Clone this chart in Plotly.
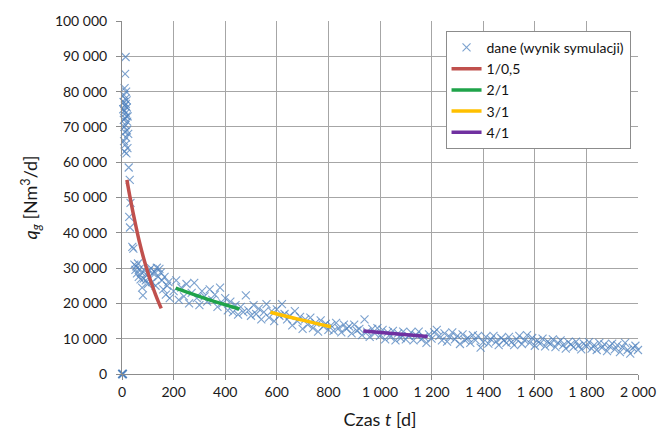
import plotly.graph_objects as go

# --- simulation output: time [d] and gas rate [Nm3/d] ---
t_zero = [0, 1, 2, 3, 4]
q_zero = [0, 0, 0, 0, 0]

t_early = [5, 6, 7, 8, 8, 9, 9, 10, 10, 11, 11, 12, 12, 13, 13, 14, 14, 15, 15, 16,
           16, 17, 17, 18, 19, 19, 20, 21, 22, 24, 26, 30, 33, 28, 31, 40, 44]
q_early = [75000, 77000, 72000, 79000, 66000, 70000, 74500, 81000, 63000, 76000,
           68500, 85000, 72500, 78000, 65000, 89800, 70500, 74000, 76500, 67000,
           80000, 73000, 62500, 77500, 69000, 75500, 71500, 64000, 73000, 68000,
           58500, 55000, 48500, 44500, 41500, 36000, 35500]

t_mid = [48, 52, 55, 58, 62, 65, 68, 72, 75, 78, 81, 84, 88, 92, 96, 100, 104, 108,
         112, 116, 120, 125, 130, 135, 140, 145, 150, 155, 160, 165, 170, 175, 180, 185]
q_mid = [31000, 29500, 30500, 28500, 31300, 27500, 29800, 26800, 28800, 24500,
         22300, 27000, 29300, 26500, 28000, 25500, 29300, 27000, 30000, 26000,
         28500, 29000, 25000, 30100, 27500, 29800, 28700, 26500, 24000, 27500,
         22500, 25000, 26000, 21500]

t_late = list(range(200, 2001, 10))
q_late = [23500, 26500, 21000, 24500, 22000, 25500, 20000, 23000, 25800, 21500,
          19500, 23500, 22000, 20500, 24000, 21000, 22500, 19000, 24500, 20000,
          21500, 18000, 20500, 17500, 19500, 16800, 19000, 17500, 22300, 18000,
          16500, 19500, 17000, 18500, 15500, 17500, 19800, 16000, 17800, 15000,
          18300, 16500, 19800, 17000, 15500, 16500, 13800, 17800, 15000, 16200,
          12800, 15500, 14000, 16000, 13000, 14500, 12000, 15200, 13500, 14200,
          12500, 13800, 12200, 14500, 13000, 11800, 14000, 12800, 13500, 11500,
          14000, 12300, 12800, 11000, 15500, 12000, 10500, 12800, 11500, 13000,
          10800, 12500, 9800, 11800, 10500, 12200, 9500, 11500, 10200, 12000,
          9800, 10800, 11800, 9500, 11000, 12000, 9800, 10500, 8800, 11200,
          10000, 11800, 12500, 10800, 9500, 11500, 9200, 10500, 11800, 9800,
          10800, 8500, 11200, 9500, 10200, 8800, 11000, 9600, 10800, 7500,
          9000, 10500, 8600, 9800, 10800, 9200, 8200, 10200, 9500, 8800,
          10500, 9000, 8200, 9800, 10800, 8500, 9600, 11000, 8800, 10200,
          8000, 9500, 8600, 10000, 7800, 9200, 8500, 9800, 7600, 8800,
          9500, 8200, 7200, 9000, 8400, 7600, 9200, 8000, 7000, 8600,
          7800, 9000, 7200, 8200, 6800, 8800, 7500, 8400, 6500, 7800,
          8600, 7000, 8200, 6200, 7600, 8800, 6800, 5800, 7400, 8000, 6800]

t_data = t_zero + t_early + t_mid + t_late
q_data = q_zero + q_early + q_mid + q_late

# --- fitted decline segments ---
t_fit1 = [19, 30, 42, 55, 69, 85, 100, 115, 130, 142, 152]
q_fit1 = [55000, 50500, 46000, 41500, 37000, 32500, 28800, 25500, 22500, 20300, 18600]
t_fit2 = [208, 330, 455]
q_fit2 = [24300, 21200, 18400]
t_fit3 = [575, 690, 810]
q_fit3 = [17500, 15400, 13400]
t_fit4 = [935, 1060, 1185]
q_fit4 = [12200, 11400, 10600]

series_names = ["dane (wynik symulacji)", "1/0,5", "2/1", "3/1", "4/1"]
fit_colors = ["#C0504D", "#1FA34A", "#FFC000", "#7030A0"]

x_ticks = [0, 200, 400, 600, 800, 1000, 1200, 1400, 1600, 1800, 2000]
x_tick_labels = ["0", "200", "400", "600", "800", "1 000", "1 200", "1 400",
                 "1 600", "1 800", "2 000"]
y_ticks = list(range(0, 100001, 10000))
y_tick_labels = ["0", "10 000", "20 000", "30 000", "40 000", "50 000", "60 000",
                 "70 000", "80 000", "90 000", "100 000"]

FONT = "Lato, Open Sans, sans-serif"
GRID = "#A6A6A6"

fig = go.Figure()
fig.add_trace(go.Scatter(
    x=t_data, y=q_data, mode="markers", name=series_names[0], cliponaxis=False,
    marker=dict(symbol="x-thin", size=8, color="rgba(79,129,189,0.75)",
                line=dict(width=1.1, color="rgba(79,129,189,0.75)")),
))
for name, xs, ys, col in zip(series_names[1:],
                             [t_fit1, t_fit2, t_fit3, t_fit4],
                             [q_fit1, q_fit2, q_fit3, q_fit4],
                             fit_colors):
    fig.add_trace(go.Scatter(x=xs, y=ys, mode="lines", name=name,
                             line=dict(color=col, width=3.5, shape="spline")))

fig.update_layout(
    width=668, height=441,
    margin=dict(l=122, r=26, t=19, b=67),
    paper_bgcolor="white", plot_bgcolor="white",
    font=dict(family=FONT, size=14, color="#1a1a1a"),
    showlegend=True,
    legend=dict(x=0.627, y=0.972, xanchor="left", yanchor="top",
                bgcolor="white", bordercolor="#8C8C8C", borderwidth=1,
                font=dict(family=FONT, size=14, color="#111"),
                itemwidth=30, tracegroupgap=0),
)
fig.update_xaxes(
    range=[0, 2000], tickvals=x_ticks, ticktext=x_tick_labels,
    showgrid=True, gridcolor=GRID, gridwidth=1,
    showline=True, linecolor="#8C8C8C", linewidth=1, mirror=False,
    ticks="outside", ticklen=5, tickcolor="#8C8C8C",
    zeroline=False, tickfont=dict(size=14, color="#1a1a1a"),
    title=dict(text="Czas <i>t</i> [d]", font=dict(size=18, color="#1a1a1a"), standoff=14),
)
fig.update_yaxes(
    range=[0, 100000], tickvals=y_ticks, ticktext=y_tick_labels,
    showgrid=True, gridcolor=GRID, gridwidth=1,
    showline=True, linecolor="#8C8C8C", linewidth=1, mirror=False,
    ticks="outside", ticklen=5, tickcolor="#8C8C8C", ticklabelstandoff=6,
    zeroline=False, tickfont=dict(size=14, color="#1a1a1a"),
    title=dict(text="<i>q<sub>g</sub></i> [Nm<sup>3</sup>/d]",
               font=dict(size=18, color="#1a1a1a"), standoff=12),
)

fig.write_html("out.html")
